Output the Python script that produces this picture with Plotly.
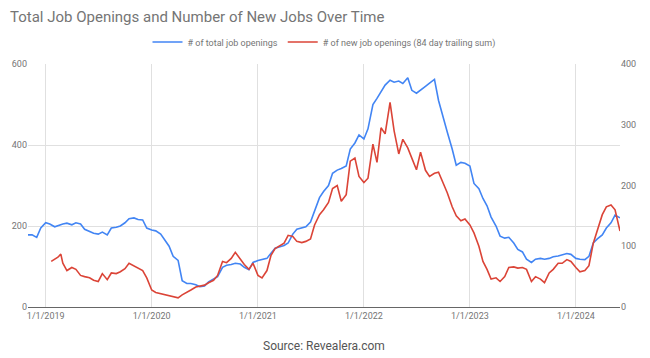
import plotly.graph_objects as go

# ---- data ----
total_dates = [
    "2018-11-01","2018-11-15","2018-12-01","2018-12-15",
    "2019-01-01","2019-01-15","2019-02-01","2019-02-15","2019-03-01","2019-03-15",
    "2019-04-01","2019-04-15","2019-05-01","2019-05-15","2019-06-01","2019-06-15",
    "2019-07-01","2019-07-15","2019-08-01","2019-08-15","2019-09-01","2019-09-15",
    "2019-10-01","2019-10-15","2019-11-01","2019-11-15","2019-12-01","2019-12-15",
    "2020-01-01","2020-01-15","2020-02-01","2020-02-15","2020-03-01","2020-03-15",
    "2020-04-01","2020-04-15","2020-05-01","2020-05-15","2020-06-01","2020-06-15",
    "2020-07-01","2020-07-15","2020-08-01","2020-08-15","2020-09-01","2020-09-15",
    "2020-10-01","2020-10-15","2020-11-01","2020-11-15","2020-12-01","2020-12-15",
    "2021-01-01","2021-01-15","2021-02-01","2021-02-15","2021-03-01","2021-03-15",
    "2021-04-01","2021-04-15","2021-05-01","2021-05-15","2021-06-01","2021-06-15",
    "2021-07-01","2021-07-15","2021-08-01","2021-08-15","2021-09-01","2021-09-15",
    "2021-10-01","2021-10-15","2021-11-01","2021-11-15","2021-12-01","2021-12-15",
    "2022-01-01","2022-01-15","2022-02-01","2022-02-15","2022-03-01","2022-03-15",
    "2022-04-01","2022-04-15","2022-05-01","2022-05-15","2022-06-01","2022-06-15",
    "2022-07-01","2022-07-15","2022-08-01","2022-08-15","2022-09-01","2022-09-15",
    "2022-10-01","2022-10-15","2022-11-01","2022-11-15","2022-12-01","2022-12-15",
    "2023-01-01","2023-01-15","2023-02-01","2023-02-15","2023-03-01","2023-03-15",
    "2023-04-01","2023-04-15","2023-05-01","2023-05-15","2023-06-01","2023-06-15",
    "2023-07-01","2023-07-15","2023-08-01","2023-08-15","2023-09-01","2023-09-15",
    "2023-10-01","2023-10-15","2023-11-01","2023-11-15","2023-12-01","2023-12-15",
    "2024-01-01","2024-01-15","2024-02-01","2024-02-15","2024-03-01","2024-03-15",
    "2024-04-01","2024-04-15","2024-05-01","2024-05-15","2024-06-01",
]
total_openings = [
    178,178,172,195,
    208,205,198,202,205,207,
    203,208,205,192,187,182,
    180,185,178,195,197,200,
    208,218,220,216,215,195,
    190,188,180,165,150,125,
    115,65,58,58,55,50,
    52,62,68,75,98,103,
    105,108,106,98,92,110,
    115,117,120,133,145,148,
    152,158,180,192,195,198,
    210,235,270,285,300,330,
    338,342,348,390,405,425,
    415,440,500,515,530,548,
    560,555,558,552,566,535,
    528,535,545,553,562,510,
    465,432,390,350,357,355,
    348,305,292,268,250,222,
    200,175,170,172,158,142,
    136,118,110,118,120,118,
    120,124,126,128,132,130,
    120,118,117,125,158,168,
    178,195,208,227,220,
]

new_dates = [
    "2019-01-20","2019-02-01","2019-02-12","2019-02-22","2019-03-01","2019-03-15",
    "2019-04-01","2019-04-15","2019-05-01","2019-05-15","2019-06-01","2019-06-15",
    "2019-07-01","2019-07-15","2019-08-01","2019-08-15","2019-09-01","2019-09-15",
    "2019-10-01","2019-10-15","2019-11-01","2019-11-15","2019-12-01","2019-12-15",
    "2020-01-01","2020-01-15","2020-02-01","2020-02-15","2020-03-01","2020-03-15",
    "2020-04-01","2020-04-15","2020-05-01","2020-05-15","2020-06-01","2020-06-15",
    "2020-07-01","2020-07-15","2020-08-01","2020-08-15","2020-09-01","2020-09-15",
    "2020-10-01","2020-10-15","2020-11-01","2020-11-15","2020-12-01","2020-12-15",
    "2021-01-01","2021-01-15","2021-02-01","2021-02-15","2021-03-01","2021-03-15",
    "2021-04-01","2021-04-15","2021-05-01","2021-05-15","2021-06-01","2021-06-15",
    "2021-07-01","2021-07-15","2021-08-01","2021-08-15","2021-09-01","2021-09-15",
    "2021-10-01","2021-10-15","2021-11-01","2021-11-15","2021-12-01","2021-12-15",
    "2022-01-01","2022-01-15","2022-02-01","2022-02-15","2022-03-01","2022-03-15",
    "2022-04-01","2022-04-15","2022-05-01","2022-05-15","2022-06-01","2022-06-15",
    "2022-07-01","2022-07-15","2022-08-01","2022-08-15","2022-09-01","2022-09-15",
    "2022-10-01","2022-10-15","2022-11-01","2022-11-15","2022-12-01","2022-12-15",
    "2023-01-01","2023-01-15","2023-02-01","2023-02-15","2023-03-01","2023-03-15",
    "2023-04-01","2023-04-15","2023-05-01","2023-05-15","2023-06-01","2023-06-15",
    "2023-07-01","2023-07-15","2023-08-01","2023-08-15","2023-09-01","2023-09-15",
    "2023-10-01","2023-10-15","2023-11-01","2023-11-15","2023-12-01","2023-12-15",
    "2024-01-01","2024-01-15","2024-02-01","2024-02-15","2024-03-01","2024-03-15",
    "2024-04-01","2024-04-15","2024-05-01","2024-05-15","2024-06-01",
]
new_openings = [
    75,78,82,87,72,60,
    65,62,52,50,48,44,
    42,55,45,56,55,58,
    63,72,68,64,60,48,
    28,24,22,20,18,17,
    15,20,25,28,33,34,
    36,40,44,52,75,73,
    80,90,78,70,62,72,
    52,48,60,85,96,100,
    105,118,116,108,106,108,
    112,135,152,160,172,195,
    200,174,185,240,245,215,
    205,212,268,238,295,285,
    337,290,252,276,262,245,
    226,255,225,215,220,222,
    205,188,165,150,142,145,
    135,122,100,75,62,46,
    48,42,50,65,66,64,
    65,62,42,50,46,40,
    56,62,72,72,78,75,
    65,58,60,68,105,125,
    152,165,168,160,125,
]

year_ticks = ["2019-01-01","2020-01-01","2021-01-01","2022-01-01","2023-01-01","2024-01-01"]
year_labels = ["1/1/2019","1/1/2020","1/1/2021","1/1/2022","1/1/2023","1/1/2024"]
left_ticks = [0, 200, 400, 600]
right_ticks = [0, 100, 200, 300, 400]

BLUE = "#4285F4"
RED = "#DB4437"
GRID = "#e0e0e0"
TXT = "#757575"

fig = go.Figure()
fig.add_trace(go.Scatter(x=total_dates, y=total_openings, name="# of total job openings",
                         mode="lines", line=dict(color=BLUE, width=1.6), yaxis="y"))
fig.add_trace(go.Scatter(x=new_dates, y=new_openings, name="# of new job openings (84 day trailing sum)",
                         mode="lines", line=dict(color=RED, width=1.6), yaxis="y2"))

fig.update_layout(
    width=650, height=358,
    margin=dict(l=28, r=30, t=64, b=51, autoexpand=False),
    paper_bgcolor="white", plot_bgcolor="white",
    font=dict(family="Roboto", size=9, color=TXT),
    title=dict(text="Total Job Openings and Number of New Jobs Over Time",
               x=10/650, xanchor="left", xref="container",
               y=1-17/358, yanchor="middle", yref="container",
               font=dict(family="Roboto", size=15, color=TXT)),
    legend=dict(orientation="h", x=0.5, xanchor="center", y=1 + 22/243, yanchor="middle",
                font=dict(size=9, color=TXT), itemwidth=30, bgcolor="rgba(0,0,0,0)"),
    showlegend=True,
    xaxis=dict(range=["2018-11-01", "2024-06-01"], tickvals=year_ticks, ticktext=year_labels,
               showgrid=True, gridcolor=GRID, gridwidth=1,
               showline=True, linecolor="#666666", linewidth=1,
               ticks="", tickfont=dict(size=9, color=TXT), zeroline=False),
    yaxis=dict(range=[0, 600], tickvals=left_ticks, showgrid=True, gridcolor=GRID,
               zeroline=False, ticks="", tickfont=dict(size=9, color=TXT)),
    yaxis2=dict(range=[0, 400], tickvals=right_ticks, overlaying="y", side="right",
                showgrid=False, zeroline=False, ticks="", tickfont=dict(size=9, color=TXT)),
    annotations=[dict(text="Source: Revealera.com", x=0.5, xref="paper", xanchor="center",
                      y=-39/243, yref="paper", yanchor="middle", showarrow=False,
                      font=dict(family="Roboto", size=12, color="#555555"))],
)

fig.write_html("out.html", config={"displayModeBar": False},
               post_script="document.body.style.margin='0';")
